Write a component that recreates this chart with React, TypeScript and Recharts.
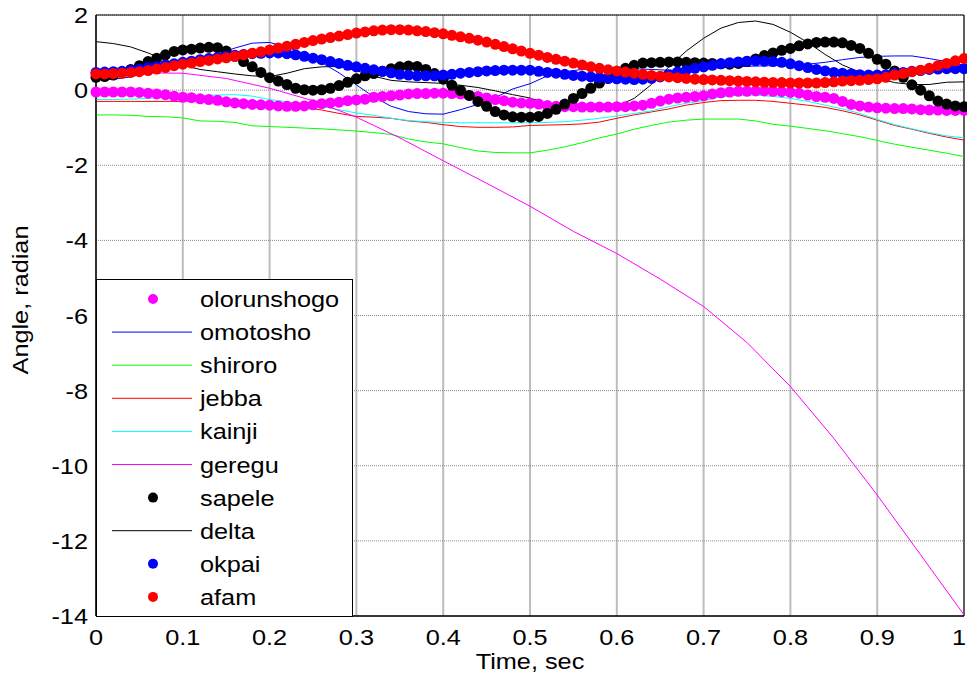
import { LineChart, Line, XAxis, YAxis, CartesianGrid, Legend, ReferenceArea, Label } from 'recharts'

const FONT = '"Liberation Sans", Arial, Helvetica, sans-serif'
const FS = 22
const STRETCH = 1.15

// tick labels
const xTicks = [0, 0.1, 0.2, 0.3, 0.4, 0.5, 0.6, 0.7, 0.8, 0.9, 1]
const yTicks = [2, 0, -2, -4, -6, -8, -10, -12, -14]

// sample times (sec)
const t01 = Array.from({ length: 101 }, (_, i) => i / 100)
const t02 = Array.from({ length: 51 }, (_, i) => i / 50)
const t05 = Array.from({ length: 21 }, (_, i) => i / 20)

// rotor angles, radian — dotted series sampled every 0.01 s
const olorunshogo = [
  -0.05, -0.05, -0.05, -0.05, -0.05, -0.06, -0.08, -0.1, -0.12, -0.16,
  -0.19, -0.2, -0.23, -0.25, -0.27, -0.31, -0.34, -0.36, -0.38, -0.39,
  -0.4, -0.42, -0.43, -0.43, -0.42, -0.39, -0.36, -0.34, -0.32, -0.28,
  -0.26, -0.24, -0.19, -0.17, -0.15, -0.13, -0.1, -0.09, -0.09, -0.08,
  -0.08, -0.09, -0.1, -0.14, -0.17, -0.21, -0.25, -0.28, -0.32, -0.34,
  -0.35, -0.37, -0.41, -0.43, -0.44, -0.44, -0.45, -0.45, -0.45, -0.45,
  -0.44, -0.44, -0.42, -0.4, -0.35, -0.29, -0.24, -0.21, -0.19, -0.17,
  -0.15, -0.1, -0.07, -0.05, -0.03, -0.03, -0.02, -0.02, -0.03, -0.04,
  -0.06, -0.08, -0.13, -0.17, -0.19, -0.22, -0.3, -0.38, -0.42, -0.45,
  -0.47, -0.48, -0.49, -0.49, -0.5, -0.52, -0.53, -0.53, -0.54, -0.54,
  -0.54,
]
const sapele = [
  0.34, 0.36, 0.4, 0.46, 0.55, 0.65, 0.76, 0.85, 0.94, 1.03,
  1.07, 1.09, 1.12, 1.14, 1.13, 1.04, 0.9, 0.76, 0.62, 0.47,
  0.33, 0.24, 0.15, 0.05, 0.01, 0.0, 0.01, 0.05, 0.12, 0.21,
  0.3, 0.38, 0.44, 0.5, 0.57, 0.62, 0.64, 0.63, 0.55, 0.44,
  0.29, 0.13, -0.01, -0.14, -0.3, -0.43, -0.57, -0.66, -0.71, -0.72,
  -0.72, -0.7, -0.62, -0.51, -0.37, -0.22, -0.09, 0.05, 0.19, 0.31,
  0.46, 0.58, 0.66, 0.72, 0.73, 0.74, 0.75, 0.75, 0.74, 0.73,
  0.72, 0.71, 0.7, 0.69, 0.71, 0.76, 0.83, 0.92, 0.99, 1.06,
  1.11, 1.18, 1.23, 1.27, 1.28, 1.28, 1.26, 1.19, 1.11, 0.98,
  0.82, 0.69, 0.51, 0.34, 0.14, 0.0, -0.15, -0.29, -0.37, -0.42,
  -0.44,
]
const okpai = [
  0.47, 0.48, 0.49, 0.5, 0.53, 0.56, 0.6, 0.63, 0.67, 0.7,
  0.74, 0.77, 0.81, 0.84, 0.87, 0.9, 0.93, 0.95, 0.97, 0.98,
  0.99, 0.99, 0.97, 0.94, 0.9, 0.85, 0.81, 0.76, 0.71, 0.66,
  0.62, 0.58, 0.54, 0.5, 0.46, 0.42, 0.4, 0.38, 0.38, 0.38,
  0.4, 0.42, 0.45, 0.47, 0.49, 0.51, 0.52, 0.53, 0.53, 0.53,
  0.53, 0.5, 0.47, 0.45, 0.42, 0.39, 0.37, 0.35, 0.33, 0.31,
  0.3, 0.29, 0.28, 0.29, 0.31, 0.35, 0.41, 0.48, 0.53, 0.58,
  0.62, 0.66, 0.7, 0.73, 0.75, 0.77, 0.78, 0.77, 0.76, 0.74,
  0.7, 0.65, 0.6, 0.55, 0.51, 0.47, 0.45, 0.43, 0.41, 0.4,
  0.4, 0.41, 0.44, 0.47, 0.5, 0.52, 0.55, 0.56, 0.57, 0.57,
  0.57,
]
const afam = [
  0.43, 0.43, 0.44, 0.45, 0.47, 0.49, 0.52, 0.56, 0.6, 0.65,
  0.69, 0.72, 0.76, 0.79, 0.83, 0.86, 0.9, 0.94, 0.98, 1.02,
  1.07, 1.12, 1.17, 1.22, 1.27, 1.32, 1.36, 1.4, 1.44, 1.48,
  1.52, 1.55, 1.58, 1.6, 1.61, 1.61, 1.6, 1.58, 1.56, 1.53,
  1.5, 1.46, 1.42, 1.38, 1.33, 1.28, 1.22, 1.16, 1.1, 1.04,
  0.98, 0.93, 0.87, 0.82, 0.77, 0.72, 0.67, 0.62, 0.58, 0.54,
  0.51, 0.48, 0.45, 0.42, 0.39, 0.37, 0.35, 0.33, 0.31, 0.29,
  0.28, 0.27, 0.26, 0.25, 0.24, 0.23, 0.22, 0.21, 0.2, 0.2,
  0.19, 0.19, 0.19, 0.19, 0.2, 0.22, 0.24, 0.25, 0.26, 0.28,
  0.3, 0.34, 0.4, 0.44, 0.49, 0.53, 0.58, 0.65, 0.71, 0.78,
  0.84,
]

// solid-line series sampled every 0.02 s
const omotosho = [
  0.27, 0.29, 0.35, 0.47, 0.58, 0.7, 0.83, 0.96, 1.12, 1.25,
  1.27, 1.14, 0.97, 0.73, 0.46, 0.14, -0.18, -0.43, -0.57, -0.63,
  -0.64, -0.52, -0.38, -0.2, 0.03, 0.17, 0.38, 0.49, 0.55, 0.58,
  0.58, 0.57, 0.55, 0.53, 0.53, 0.56, 0.6, 0.63, 0.64, 0.65,
  0.66, 0.69, 0.74, 0.81, 0.87, 0.9, 0.91, 0.91, 0.84, 0.76,
  0.66,
]
const shiroro = [
  -0.66, -0.66, -0.67, -0.7, -0.71, -0.74, -0.82, -0.83, -0.86, -0.95,
  -0.97, -0.99, -1.01, -1.03, -1.06, -1.09, -1.13, -1.18, -1.3, -1.38,
  -1.43, -1.53, -1.62, -1.66, -1.67, -1.67, -1.6, -1.51, -1.4, -1.27,
  -1.17, -1.04, -0.94, -0.85, -0.8, -0.77, -0.77, -0.77, -0.82, -0.91,
  -0.96, -1.02, -1.08, -1.16, -1.24, -1.34, -1.44, -1.52, -1.6, -1.68,
  -1.77,
]
const jebba = [
  -0.3, -0.3, -0.3, -0.3, -0.3, -0.3, -0.28, -0.28, -0.29, -0.32,
  -0.36, -0.4, -0.46, -0.53, -0.62, -0.7, -0.72, -0.75, -0.82, -0.86,
  -0.92, -0.97, -0.99, -0.99, -0.98, -0.94, -0.93, -0.92, -0.9, -0.85,
  -0.75, -0.66, -0.58, -0.5, -0.4, -0.33, -0.28, -0.27, -0.27, -0.3,
  -0.35, -0.4, -0.46, -0.55, -0.66, -0.8, -0.94, -1.04, -1.15, -1.25,
  -1.33,
]
const kainji = [
  -0.25, -0.25, -0.24, -0.22, -0.19, -0.18, -0.15, -0.13, -0.12, -0.16,
  -0.25, -0.31, -0.37, -0.44, -0.52, -0.61, -0.67, -0.75, -0.81, -0.84,
  -0.86, -0.87, -0.87, -0.87, -0.87, -0.87, -0.86, -0.84, -0.8, -0.75,
  -0.69, -0.62, -0.55, -0.44, -0.35, -0.28, -0.18, -0.13, -0.13, -0.17,
  -0.22, -0.3, -0.4, -0.5, -0.62, -0.78, -0.92, -1.03, -1.13, -1.22,
  -1.27,
]
const delta = [
  1.29, 1.24, 1.15, 0.99, 0.8, 0.66, 0.55, 0.49, 0.43, 0.38,
  0.36, 0.45, 0.57, 0.62, 0.63, 0.52, 0.37, 0.26, 0.22, 0.2,
  0.18, 0.13, 0.07, -0.02, -0.12, -0.21, -0.37, -0.47, -0.49, -0.49,
  -0.43, -0.22, 0.15, 0.62, 1.04, 1.38, 1.65, 1.8, 1.84, 1.75,
  1.54, 1.27, 0.95, 0.67, 0.48, 0.33, 0.2, 0.15, 0.15, 0.21,
  0.22,
]
// every 0.05 s
const geregu = [
  0.44, 0.46, 0.45, 0.31, 0.05, -0.28, -0.72, -1.27, -1.88, -2.48,
  -3.09, -3.76, -4.35, -5.03, -5.76, -6.72, -7.89, -9.27, -10.78, -12.37,
  -13.97,
]

const pts = (ts: number[], vs: number[]) => ts.map((t, i) => ({ t, v: vs[i] }))

const series = [
  { name: 'olorunshogo', color: '#ff00ff', dots: true, data: pts(t01, olorunshogo) },
  { name: 'omotosho', color: '#0000ff', dots: false, data: pts(t02, omotosho) },
  { name: 'shiroro', color: '#00ff00', dots: false, data: pts(t02, shiroro) },
  { name: 'jebba', color: '#ff0000', dots: false, data: pts(t02, jebba) },
  { name: 'kainji', color: '#00ffff', dots: false, data: pts(t02, kainji) },
  { name: 'geregu', color: '#ff00ff', dots: false, data: pts(t05, geregu) },
  { name: 'sapele', color: '#000000', dots: true, data: pts(t01, sapele) },
  { name: 'delta', color: '#000000', dots: false, data: pts(t02, delta) },
  { name: 'okpai', color: '#0000ff', dots: true, data: pts(t01, okpai) },
  { name: 'afam', color: '#ff0000', dots: true, data: pts(t01, afam) },
]

const StretchText = ({ x, y, anchor, children }: any) => (
  <g transform={`translate(${x},${y})`}>
    <text transform={`scale(${STRETCH},1)`} textAnchor={anchor} fontFamily={FONT} fontSize={FS} fill="#000">
      {children}
    </text>
  </g>
)

// the last label sits on the right edge, keep it inside the picture
const XTick = ({ x, y, payload }: any) =>
  payload.value === 1
    ? <StretchText x={966} y={y + 21} anchor="end">1</StretchText>
    : <StretchText x={x} y={y + 21} anchor="middle">{String(payload.value)}</StretchText>

const YTick = ({ x, y, payload }: any) => (
  <StretchText x={x} y={y + 8} anchor="end">{String(payload.value)}</StretchText>
)

const LegendBox = () => (
  <div style={{ width: 257, height: 338, boxSizing: 'border-box', border: '1px solid #000', background: '#fff' }}>
    <svg width={255} height={336} style={{ display: 'block' }}>
      {series.map((s, i) => {
        const cy = 19 + i * 33.1
        return (
          <g key={s.name}>
            {s.dots
              ? <circle cx={56} cy={cy} r={5} fill={s.color} />
              : <line x1={15} x2={95} y1={cy} y2={cy} stroke={s.color} strokeWidth={1} />}
            <StretchText x={103} y={cy + 8} anchor="start">{s.name}</StretchText>
          </g>
        )
      })}
    </svg>
  </div>
)

export default function App() {
  return (
    <div style={{ position: 'absolute', left: 0, top: 0, background: '#fff' }}>
      <LineChart width={967} height={680} margin={{ top: 15, right: 3, left: 0, bottom: 0 }}>
        <CartesianGrid horizontal={false} stroke="#bdbdbd" strokeWidth={2} />
        <CartesianGrid vertical={false} stroke="#8a8a8a" strokeDasharray="1 1" />
        <XAxis
          dataKey="t"
          type="number"
          domain={[0, 1]}
          ticks={xTicks}
          height={64}
          tickLine={false}
          axisLine={{ stroke: '#000' }}
          tick={<XTick />}
          allowDuplicatedCategory={false}
        >
          <Label
            content={() => <StretchText x={530} y={669} anchor="middle">Time, sec</StretchText>}
          />
        </XAxis>
        <YAxis
          type="number"
          domain={[-14, 2]}
          ticks={yTicks}
          width={96}
          tickLine={false}
          axisLine={{ stroke: '#000' }}
          tick={<YTick />}
        >
          <Label
            content={() => (
              <g transform="translate(28,300) rotate(-90)">
                <text transform={`scale(${STRETCH},1)`} textAnchor="middle" fontFamily={FONT} fontSize={FS} fill="#000">
                  Angle, radian
                </text>
              </g>
            )}
          />
        </YAxis>
        {series.map(s => (
          <Line
            key={s.name}
            data={s.data}
            dataKey="v"
            name={s.name}
            type="linear"
            stroke={s.dots ? 'none' : s.color}
            strokeWidth={s.dots ? 0 : 1}
            dot={s.dots ? { r: 5.5, fill: s.color, stroke: 'none' } : false}
            activeDot={false}
            isAnimationActive={false}
          />
        ))}
        <ReferenceArea x1={0} x2={1} y1={-14} y2={2} fill="none" stroke="#000" strokeWidth={1} ifOverflow="visible" />
        <Legend
          layout="vertical"
          align="center"
          verticalAlign="middle"
          wrapperStyle={{ left: 96, top: 279, width: 257, height: 338 }}
          content={() => <LegendBox />}
        />
      </LineChart>
    </div>
  )
}
